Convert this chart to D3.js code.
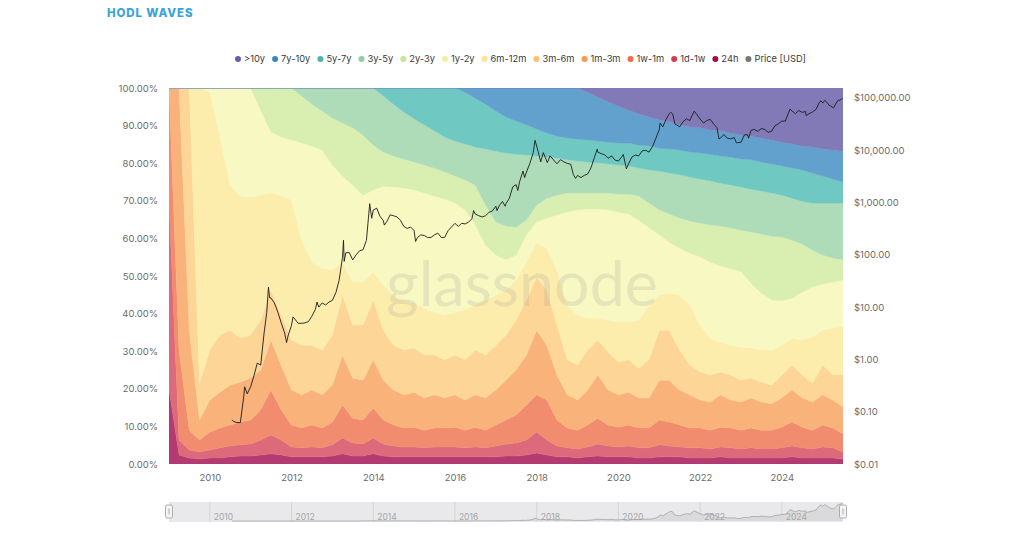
<!DOCTYPE html>
<html><head><meta charset="utf-8">
<script src="https://cdn.jsdelivr.net/npm/d3@7"></script>
<style>
html,body{margin:0;padding:0;background:#fff;}
svg{display:block;font-family:"Inter","Open Sans",sans-serif;}
</style></head><body>
<svg id="chart" width="1024" height="536"></svg>
<script>
// ---------- DATA ----------
const quarters = [
"2009-01-01","2009-04-01","2009-07-01","2009-10-01","2010-01-01","2010-04-01","2010-07-01","2010-10-01",
"2011-01-01","2011-04-01","2011-07-01","2011-10-01","2012-01-01","2012-04-01","2012-07-01","2012-10-01",
"2013-01-01","2013-04-01","2013-07-01","2013-10-01","2014-01-01","2014-04-01","2014-07-01","2014-10-01",
"2015-01-01","2015-04-01","2015-07-01","2015-10-01","2016-01-01","2016-04-01","2016-07-01","2016-10-01",
"2017-01-01","2017-04-01","2017-07-01","2017-10-01","2018-01-01","2018-04-01","2018-07-01","2018-10-01",
"2019-01-01","2019-04-01","2019-07-01","2019-10-01","2020-01-01","2020-04-01","2020-07-01","2020-10-01",
"2021-01-01","2021-04-01","2021-07-01","2021-10-01","2022-01-01","2022-04-01","2022-07-01","2022-10-01",
"2023-01-01","2023-04-01","2023-07-01","2023-10-01","2024-01-01","2024-04-01","2024-07-01","2024-10-01",
"2025-01-01","2025-04-01","2025-07-01"];

// share of supply (%) per age band
const h24 = [19.9,2.4,1.6,1.3,1.6,1.6,1.9,2.1,2.1,2.4,
 2.7,2.4,1.9,1.9,1.9,1.9,2.1,2.7,2.1,2.1,
 2.7,2.1,1.9,1.9,1.9,1.9,1.9,1.9,1.9,1.9,
 1.9,1.9,1.9,2.1,2.1,2.4,2.9,2.4,1.9,1.9,
 1.6,1.9,2.1,1.9,1.9,1.9,1.6,1.6,1.9,1.9,
 1.9,1.6,1.6,1.6,1.9,1.6,1.6,1.6,1.6,1.6,
 1.6,1.9,1.6,1.6,1.6,1.6,1.3];
const d1w = [50.0,4.0,2.1,1.9,2.1,2.7,2.9,3.0,3.2,4.0,
 5.0,4.0,2.6,2.4,2.6,2.4,3.0,4.2,3.5,3.2,
 4.2,3.2,2.9,2.6,2.6,2.4,2.6,2.6,2.6,2.4,
 2.6,2.4,2.9,3.2,3.5,4.0,5.6,4.0,2.9,2.4,
 2.4,2.6,3.2,2.9,2.6,2.9,2.7,2.7,3.2,2.9,
 2.6,2.7,2.7,2.4,2.6,2.7,2.4,2.7,2.4,2.4,
 2.7,2.9,2.7,2.4,2.9,2.7,1.9];
const w1m = [30.1,23.9,5.3,3.2,4.8,5.3,5.6,6.1,6.4,8.0,
 12.0,8.0,5.9,5.3,5.9,5.3,6.1,8.8,6.6,6.4,
 8.0,6.4,5.6,5.1,5.3,4.7,5.1,5.1,5.3,4.7,
 5.3,4.7,5.6,6.4,7.4,9.3,9.9,10.6,6.9,5.3,
 5.0,5.9,6.9,5.6,5.3,5.6,5.3,5.3,6.6,6.4,
 5.9,5.3,5.3,5.0,5.3,5.3,5.0,5.3,5.0,5.0,
 5.5,6.4,5.5,5.0,5.9,5.3,4.8];
const m1m3 = [0,69.7,26.6,5.3,8.5,9.5,10.6,10.6,11.2,10.6,
 13.3,11.9,9.3,8.8,9.3,8.8,9.8,13.3,10.7,10.6,
 12.8,10.6,9.3,8.8,9.3,8.6,8.8,8.0,8.6,8.0,
 8.6,8.6,9.3,10.6,12.0,13.3,17.2,14.6,12.0,8.8,
 8.0,9.3,11.5,9.3,8.6,8.7,8.0,8.0,10.6,11.1,
 9.3,8.8,7.4,7.5,8.6,7.4,7.5,8.0,7.5,7.0,
 7.8,8.5,7.8,7.5,8.0,7.4,7.2];
const m3m6 = [0,0,64.4,9.8,13.3,15.2,14.6,11.7,11.4,13.3,
 13.3,13.3,13.3,13.2,11.9,11.9,13.3,15.9,14.1,14.7,
 15.9,13.3,11.9,11.9,11.8,11.4,10.6,10.1,10.6,10.7,
 11.9,11.4,11.9,12.0,13.3,14.6,14.1,14.7,13.3,9.3,
 9.3,10.6,9.3,10.1,8.7,8.6,7.9,10.1,13.3,13.3,
 10.6,7.9,7.5,7.2,6.1,6.7,5.8,5.3,5.3,5.0,
 6.1,6.6,6.1,5.0,7.9,6.7,8.5];
const m6m12 = [0,0,0,78.5,68.6,53.2,38.6,37.8,36.7,33.2,
 25.8,31.9,37.2,28.0,22.1,21.8,17.3,8.8,11.4,11.4,
 7.5,12.0,13.3,13.3,11.9,12.5,11.4,11.9,11.4,13.3,
 12.0,14.6,13.3,12.0,10.6,10.1,9.3,11.1,14.6,14.6,
 13.3,8.5,5.8,8.5,10.7,10.1,12.8,14.6,9.3,9.9,
 14.6,16.0,12.5,9.8,7.9,7.9,8.8,8.0,8.5,9.3,
 7.9,7.2,9.3,12.3,9.3,12.5,13.0];
const y1y2 = [0,0,0,0,1.1,12.5,25.8,28.7,29.0,22.6,
 16.2,15.5,16.0,25.8,30.9,31.4,27.9,22.9,25.8,23.1,
 21.8,26.3,28.8,29.8,30.1,30.6,30.9,30.9,29.0,26.6,
 21.3,14.6,10.7,8.0,6.7,7.2,5.4,8.0,14.6,24.7,
 28.0,29.0,29.0,29.3,29.2,28.7,26.6,20.5,16.0,13.5,
 12.5,13.8,18.1,20.2,20.3,20.3,20.0,17.2,15.2,13.3,
 11.8,10.6,12.7,13.3,12.3,12.2,12.2];
const y2y3 = [0,0,0,0,0,0,0,0,0,5.9,
 11.7,13.0,13.8,12.5,11.1,10.4,12.5,14.1,15.2,16.0,
 11.9,9.1,8.2,7.7,7.4,7.4,7.4,7.2,7.2,7.9,
 10.6,10.7,8.8,9.0,7.4,4.0,4.5,5.3,5.3,5.1,
 4.5,4.3,4.3,4.5,4.8,5.3,6.4,6.6,6.7,7.5,
 8.0,8.5,9.0,9.9,10.6,10.9,11.1,13.6,15.7,17.0,
 17.0,15.5,12.8,9.8,7.7,6.4,5.4];
const y3y5 = [0,0,0,0,0,0,0,0,0,0,
 0,0,0,2.1,4.3,6.1,8.0,9.3,10.6,12.5,
 15.2,14.9,13.8,12.5,11.5,10.7,9.9,9.3,9.3,9.6,
 10.1,14.9,18.8,19.4,19.4,17.3,13.0,10.9,9.9,8.8,
 8.5,8.2,8.0,7.7,7.7,7.5,7.4,8.8,10.3,10.9,
 11.5,11.7,11.7,11.7,11.4,11.4,11.5,11.4,11.4,11.5,
 11.1,11.1,11.4,12.5,13.8,14.6,15.1];
const y5y7 = [0,0,0,0,0,0,0,0,0,0,
 0,0,0,0,0,0,0,0,0,0,
 0,2.1,4.3,6.4,8.2,9.8,11.4,13.0,14.1,13.8,
 13.0,11.9,10.7,9.6,8.8,8.0,7.2,6.4,5.8,5.8,
 5.8,5.9,5.8,5.8,5.9,6.1,6.1,6.4,6.1,6.4,
 6.6,6.7,6.9,7.1,7.2,7.4,7.4,7.8,7.7,7.7,
 7.8,8.0,8.3,8.0,7.2,6.4,5.6];
const y7y10 = [0,0,0,0,0,0,0,0,0,0,
 0,0,0,0,0,0,0,0,0,0,
 0,0,0,0,0,0,0,0,0,1.1,
 2.7,4.3,6.1,7.7,8.8,9.8,10.9,12.0,12.8,13.3,
 13.6,12.7,11.7,10.7,9.8,8.7,8.3,7.7,7.5,7.2,
 6.7,6.6,6.7,6.4,6.7,6.4,6.4,6.3,6.4,6.4,
 6.3,6.4,6.4,6.9,7.2,7.7,8.2];
const y10 = [0,0,0,0,0,0,0,0,0,0,
 0,0,0,0,0,0,0,0,0,0,
 0,0,0,0,0,0,0,0,0,0,
 0,0,0,0,0,0,0,0,0,0,
 0,1.1,2.4,3.7,4.8,5.9,6.9,7.7,8.5,9.0,
 9.8,10.4,10.6,11.2,11.4,12.0,12.5,12.8,13.3,13.8,
 14.4,14.9,15.4,15.7,16.2,16.5,16.8];

// legend order (top band first)
const seriesNames = [">10y","7y-10y","5y-7y","3y-5y","2y-3y","1y-2y","6m-12m","3m-6m","1m-3m","1w-1m","1d-1w","24h"];
const seriesValues = [y10,y7y10,y5y7,y3y5,y2y3,y1y2,m6m12,m3m6,m1m3,w1m,d1w,h24];

// BTC price (USD)
const priceDates = [
"2010-07-18","2010-08-01","2010-09-01","2010-10-01","2010-11-01","2010-11-08","2010-12-01",
"2011-01-01","2011-02-01","2011-03-01","2011-04-01","2011-05-01","2011-05-25","2011-06-09","2011-06-20","2011-07-01","2011-08-01","2011-09-01","2011-10-01","2011-11-01","2011-11-18","2011-12-01",
"2012-01-01","2012-01-15","2012-03-01","2012-04-01","2012-05-01","2012-06-01","2012-07-01","2012-08-01","2012-08-16","2012-09-01","2012-10-01","2012-11-01","2012-12-01",
"2013-01-01","2013-02-01","2013-03-01","2013-04-01","2013-04-10","2013-04-16","2013-05-01","2013-06-01","2013-07-01","2013-08-01","2013-09-01","2013-10-01","2013-11-01","2013-11-30","2013-12-18",
"2014-01-01","2014-02-01","2014-03-01","2014-04-01","2014-04-10","2014-05-01","2014-06-01","2014-07-01","2014-08-01","2014-09-01","2014-10-01","2014-11-01","2014-12-01",
"2015-01-01","2015-01-14","2015-02-01","2015-03-01","2015-04-01","2015-05-01","2015-06-01","2015-07-01","2015-08-01","2015-09-01","2015-10-01","2015-11-01","2015-12-01",
"2016-01-01","2016-02-01","2016-03-01","2016-04-01","2016-05-01","2016-06-01","2016-06-16","2016-07-01","2016-08-01","2016-09-01","2016-10-01","2016-11-01","2016-12-01",
"2017-01-01","2017-01-11","2017-02-01","2017-03-01","2017-03-25","2017-04-01","2017-05-01","2017-06-01","2017-07-01","2017-07-16","2017-08-01","2017-09-01","2017-09-15","2017-10-01","2017-11-01","2017-12-01","2017-12-17",
"2018-01-01","2018-02-06","2018-03-01","2018-04-06","2018-05-01","2018-06-01","2018-07-01","2018-08-01","2018-09-01","2018-10-01","2018-11-01","2018-11-25","2018-12-15",
"2019-01-01","2019-02-01","2019-03-01","2019-04-01","2019-05-01","2019-06-01","2019-06-26","2019-07-01","2019-08-01","2019-09-01","2019-10-01","2019-11-01","2019-12-01",
"2020-01-01","2020-02-01","2020-02-14","2020-03-13","2020-04-01","2020-05-01","2020-06-01","2020-07-01","2020-08-01","2020-09-01","2020-10-01","2020-11-01","2020-12-01",
"2021-01-01","2021-01-08","2021-02-01","2021-03-01","2021-04-01","2021-04-14","2021-05-01","2021-05-20","2021-06-01","2021-07-01","2021-08-01","2021-09-01","2021-10-01","2021-11-01","2021-11-09","2021-12-01",
"2022-01-01","2022-02-01","2022-03-01","2022-04-01","2022-05-01","2022-06-01","2022-06-18","2022-07-01","2022-08-01","2022-09-01","2022-10-01","2022-11-01","2022-11-21","2022-12-01",
"2023-01-01","2023-02-01","2023-03-01","2023-03-10","2023-04-01","2023-05-01","2023-06-01","2023-07-01","2023-08-01","2023-09-01","2023-10-01","2023-11-01","2023-12-01",
"2024-01-01","2024-02-01","2024-03-01","2024-03-14","2024-05-01","2024-06-01","2024-07-01","2024-08-01","2024-08-05","2024-09-01","2024-10-01","2024-11-01","2024-12-01","2024-12-17",
"2025-01-01","2025-01-20","2025-02-01","2025-03-01","2025-04-08","2025-05-01","2025-05-22","2025-06-01","2025-06-28"];
const priceValues = [
0.07,0.065,0.062,0.062,0.2,0.3,0.22,
0.30,0.5,0.85,0.78,3.2,8,24,15,15,12,8,5,3.2,2.1,2.8,
4.5,6.5,4.9,4.9,5.0,5.3,6.7,9,12.5,10,12,11,12.5,
13.5,19,32,90,190,75,110,110,80,100,120,125,190,950,500,
720,780,550,450,370,430,580,560,530,460,350,320,340,
290,180,215,240,235,215,215,240,260,215,215,290,340,
400,350,400,390,420,490,700,600,560,530,560,650,690,
850,700,880,1050,850,950,1200,2000,2200,1700,2500,4000,3000,3800,5600,9000,15500,
12000,6000,9000,5800,7800,6500,5500,6600,6000,5600,5400,3400,2900,
3300,3000,3300,3500,4600,7300,10500,9200,8600,8200,7000,7800,6500,
6200,7500,8300,4400,5500,7400,8100,7800,9700,10000,9200,11800,16800,
25000,33000,28000,38500,50000,53000,49000,32000,31000,28000,35000,40000,37000,52000,56000,48500,
39500,33000,37000,39000,32000,27000,16500,17000,20000,17000,16500,17500,13800,14000,
14200,19700,19700,17000,24000,25000,23000,26000,25000,22000,23000,29500,32000,
36000,36000,52000,61000,50000,57500,53000,55000,46000,50000,54000,60000,82000,88000,
80000,90000,85000,72000,65000,80000,92000,90000,98000];

// ticks
const pctTicks = [0,10,20,30,40,50,60,70,80,90,100];
const priceTicks = [0.01,0.1,1,10,100,1000,10000,100000];
const yearTicks = [2010,2012,2014,2016,2018,2020,2022,2024];

// ---------- STYLE ----------
const areaColors = {">10y":"#8279b7","7y-10y":"#62a0cd","5y-7y":"#6fc8c1","3y-5y":"#aedcb8","2y-3y":"#d8efb1",
  "1y-2y":"#f8f8c2","6m-12m":"#fdedac","3m-6m":"#fdd597","1m-3m":"#f9b37a","1w-1m":"#f18c6e","1d-1w":"#dc6a7b","24h":"#b43b72"};
const legendColors = {">10y":"#6a5eab","7y-10y":"#3d86c1","5y-7y":"#4db5aa","3y-5y":"#8dcf9f","2y-3y":"#c6e69a",
  "1y-2y":"#f2f0a0","6m-12m":"#fde394","3m-6m":"#fcc070","1m-3m":"#f79a52","1w-1m":"#f26b48","1d-1w":"#d63a55","24h":"#9e0f45","Price [USD]":"#777777"};

// ---------- CHART ----------
const svg = d3.select("#chart");
const parse = d3.utcParse("%Y-%m-%d");
const X0 = 169, X1 = 843, YT = 88, YB = 464;
const x = d3.scaleUtc().domain([parse("2009-01-01"), parse("2025-07-01")]).range([X0, X1]);
const y = d3.scaleLinear().domain([0, 1]).range([YB, YT]);
const yP = d3.scaleLog().domain([0.01, 155000]).range([YB, YT]);

const table = quarters.map((q, i) => {
  const row = {date: parse(q)};
  seriesNames.forEach((n, k) => row[n] = seriesValues[k][i]);
  return row;
});
const keysBottomUp = seriesNames.slice().reverse();
const stacked = d3.stack().keys(keysBottomUp).offset(d3.stackOffsetExpand)(table);

svg.append("defs").append("clipPath").attr("id", "plotclip")
  .append("rect").attr("x", X0).attr("y", YT).attr("width", X1 - X0).attr("height", YB - YT);

const area = d3.area().x(d => x(d.data.date)).y0(d => y(d[0])).y1(d => y(d[1]));
const gA = svg.append("g").attr("clip-path", "url(#plotclip)");
gA.selectAll("path").data(stacked).join("path")
  .attr("d", area)
  .attr("fill", d => areaColors[d.key])
  .attr("stroke", d => areaColors[d.key])
  .attr("stroke-width", 0.4);

// watermark
svg.append("text").attr("x", 522).attr("y", 306).attr("text-anchor", "middle")
  .attr("font-family", "Lato, 'Open Sans', sans-serif").attr("font-size", 62)
  .attr("textLength", 272).attr("lengthAdjust", "spacingAndGlyphs")
  .attr("fill", "#9a9a9a").attr("fill-opacity", 0.2).text("glassnode");

// price line
const priceData = priceDates.map((d, i) => ({date: parse(d), v: priceValues[i]}));
const line = d3.line().x(d => x(d.date)).y(d => yP(d.v));
svg.append("path").datum(priceData).attr("clip-path", "url(#plotclip)")
  .attr("d", line).attr("fill", "none").attr("stroke", "#1c1c1c")
  .attr("stroke-width", 1).attr("stroke-opacity", 0.9).attr("stroke-linejoin", "round");

// axes
const axisFont = g => g.selectAll("text").attr("font-size", 9.5).attr("fill", "#6b6b6b")
  .attr("font-family", "Inter, 'Open Sans', sans-serif");
const gL = svg.append("g").attr("transform", `translate(${X0},0)`)
  .call(d3.axisLeft(y).tickValues(pctTicks.map(v => v / 100)).tickSize(0).tickPadding(11)
    .tickFormat(v => d3.format(".2f")(v * 100) + "%"));
gL.select(".domain").remove(); axisFont(gL);
const gR = svg.append("g").attr("transform", `translate(${X1},0)`)
  .call(d3.axisRight(yP).tickValues(priceTicks).tickSize(0).tickPadding(11)
    .tickFormat(v => "$" + d3.format(",.2f")(v)));
gR.select(".domain").remove(); axisFont(gR);
const yearDates = yearTicks.map(yv => parse(yv + "-01-01"));
const gB = svg.append("g").attr("transform", `translate(0,${YB})`)
  .call(d3.axisBottom(x).tickValues(yearDates).tickSize(0).tickPadding(10).tickFormat(d3.utcFormat("%Y")));
gB.select(".domain").remove(); axisFont(gB);

// title
svg.append("text").attr("x", 107).attr("y", 17).attr("font-size", 11.5).attr("font-weight", 800)
  .attr("letter-spacing", "0.9px").attr("fill", "#3ba3dd")
  .attr("font-family", "Inter, 'Open Sans', sans-serif").text("HODL WAVES");

// legend
const legendItems = seriesNames.concat(["Price [USD]"]);
const gLeg = svg.append("g").attr("font-family", "Inter, 'Open Sans', sans-serif");
const items = gLeg.selectAll("g").data(legendItems).join("g");
items.append("circle").attr("r", 3).attr("cx", 3).attr("cy", 59).attr("fill", d => legendColors[d]);
items.append("text").attr("x", 9).attr("y", 62.3).attr("font-size", 9.3).attr("font-weight", 400)
  .attr("fill", "#3a3a3a").text(d => d);
const widths = [];
items.each(function () { widths.push(9 + d3.select(this).select("text").node().getComputedTextLength()); });
const startX = 235, endX = 806;
const gap = Math.max(3, (endX - startX - d3.sum(widths)) / (legendItems.length - 1));
let cx = startX;
items.each(function (d, i) { d3.select(this).attr("transform", `translate(${cx},0)`); cx += widths[i] + gap; });

// navigator
const NT = 502, NB = 522;
const gN = svg.append("g");
gN.append("rect").attr("x", X0).attr("y", NT).attr("width", X1 - X0).attr("height", NB - NT).attr("fill", "#e9e9eb");
gN.selectAll("line.grid").data(yearDates).join("line").attr("class", "grid")
  .attr("x1", d => x(d)).attr("x2", d => x(d)).attr("y1", NT).attr("y2", NB)
  .attr("stroke", "#d4d4d6").attr("stroke-width", 1);
const yN = d3.scaleLinear().domain([0, d3.max(priceValues)]).range([NB - 1, NT + 1]);
gN.append("path").datum(priceData)
  .attr("d", d3.area().x(d => x(d.date)).y0(NB - 1).y1(d => yN(d.v)))
  .attr("fill", "#dadadc");
gN.append("path").datum(priceData)
  .attr("d", d3.line().x(d => x(d.date)).y(d => yN(d.v)))
  .attr("fill", "none").attr("stroke", "#a3a3a3").attr("stroke-width", 0.8);
gN.selectAll("text").data(yearDates).join("text")
  .attr("x", d => x(d) + 4).attr("y", NB - 2).attr("font-size", 8.5).attr("fill", "#a5a5a5")
  .attr("font-family", "Inter, 'Open Sans', sans-serif").text(d3.utcFormat("%Y"));
[X0, X1].forEach(hx => {
  gN.append("rect").attr("x", hx - 3.5).attr("y", 505).attr("width", 7).attr("height", 13).attr("rx", 1.5)
    .attr("fill", "#f4f4f4").attr("stroke", "#9a9a9a").attr("stroke-width", 0.8);
  gN.append("line").attr("x1", hx).attr("x2", hx).attr("y1", 508.5).attr("y2", 514.5)
    .attr("stroke", "#9a9a9a").attr("stroke-width", 0.8);
});
</script>
</body></html>
